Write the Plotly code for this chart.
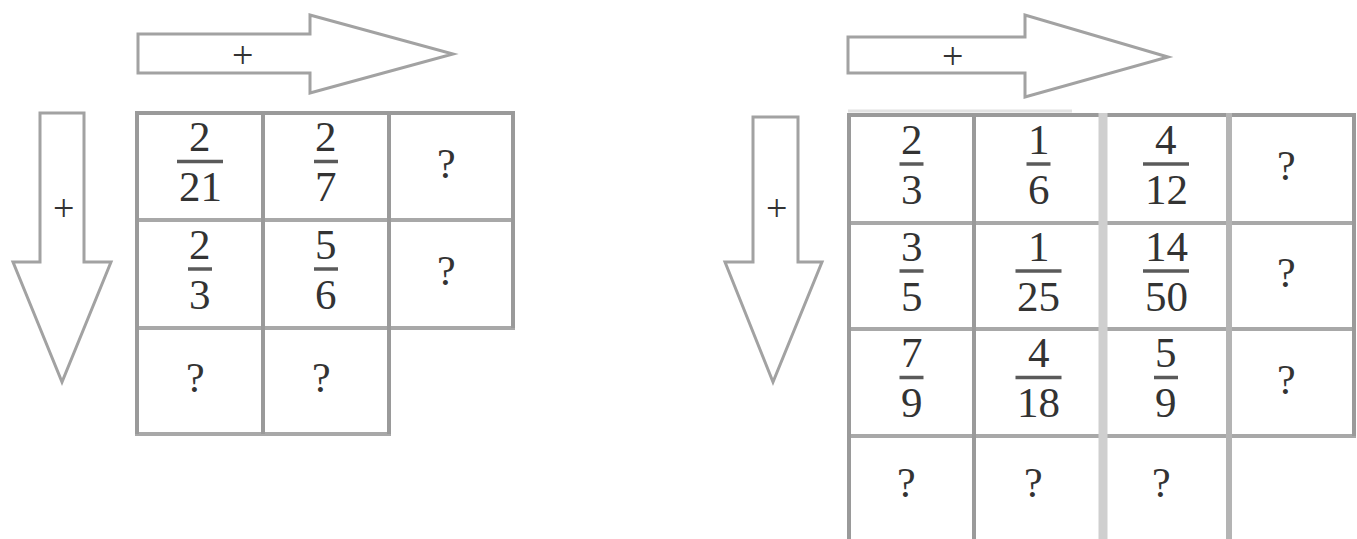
import plotly.graph_objects as go

# ---------------- data: cell contents (row by row) ----------------
left_rows = [
    ["2/21", "2/7", "?"],
    ["2/3", "5/6", "?"],
    ["?", "?"],
]
right_rows = [
    ["2/3", "1/6", "4/12", "?"],
    ["3/5", "1/25", "14/50", "?"],
    ["7/9", "4/18", "5/9", "?"],
    ["?", "?", "?"],
]
arrow_labels = ["+", "+"]

# ---------------- geometry (pixel space of the 1357x539 page) ----------------
W, H = 1357, 539
panels = [
    dict(rows=left_rows, xe=[137, 263, 389, 513], ye=[113, 220, 328, 434],
         open_bottom=False,
         harrow=dict(x0=138, x1=310, y0=34, y1=73, ht=15, hb=93, tipx=453, tipy=54, lx=242),
         varrow=dict(x0=40, x1=84, y0=113, yb=262, hl=13, hr=111, tipx=62, tipy=382, ly=208)),
    dict(rows=right_rows, xe=[849, 974, 1103, 1229, 1354], ye=[115, 223, 329, 436, 545],
         open_bottom=True,
         harrow=dict(x0=848, x1=1025, y0=37, y1=73, ht=15, hb=97, tipx=1168, tipy=57, lx=952),
         varrow=dict(x0=753, x1=798, y0=117, yb=262, hl=725, hr=822, tipx=773, tipy=382, ly=208)),
]

LINE = "#9a9a9a"
TXT = "#333333"
FONT = "Liberation Serif, Times New Roman, serif"

fig = go.Figure()
fig.add_trace(go.Scatter(x=[0, W], y=[0, H], mode="markers",
                         marker=dict(opacity=0), hoverinfo="skip", showlegend=False))

shapes = []
annos = []

def line(x0, y0, x1, y1, color=LINE, width=4):
    shapes.append(dict(type="line", x0=x0, y0=y0, x1=x1, y1=y1, xref="x", yref="y",
                       line=dict(color=color, width=width)))

for pi, p in enumerate(panels):
    xe, ye, rows = p["xe"], p["ye"], p["rows"]
    ncols = len(rows[0])
    nrows = len(rows)
    # horizontal lines
    for r in range(nrows + 1):
        if r == nrows and p["open_bottom"]:
            continue
        if r == nrows:
            cols_here = len(rows[r - 1])
        else:
            cols_here = max(len(rows[r - 1]) if r > 0 else 0, len(rows[r]))
        col = LINE if r == 0 else "#a8a8a8"
        line(xe[0] - 2, ye[r], xe[cols_here] + 2, ye[r], color=col)
    # vertical lines
    for c in range(ncols + 1):
        last = 0
        for r in range(nrows):
            if c <= len(rows[r]):
                last = r
        ybot = ye[last + 1] if not (p["open_bottom"] and last == nrows - 1) else H + 5
        col, wd = LINE, 4
        if pi == 1 and c == 2:
            col, wd = "#cfcfcf", 9
        elif pi == 1 and c == 3:
            col, wd = "#b4b4b4", 6
        line(xe[c], ye[0] - 2, xe[c], ybot, color=col, width=wd)
    if pi == 1:
        line(848, 111, 1072, 111, color="#e2e2e2", width=3)

    # cell contents
    for r, row in enumerate(rows):
        for c, val in enumerate(row):
            cx = (xe[c] + xe[c + 1]) / 2
            cy = (ye[r] + ye[r + 1]) / 2 if not (p["open_bottom"] and r == nrows - 1) else ye[r] + 50
            if val == "?":
                annos.append(dict(x=cx - 5, y=cy - 3, text="?", showarrow=False,
                                  font=dict(family=FONT, size=42, color=TXT),
                                  xanchor="center", yanchor="middle"))
            elif val:
                num, den = val.split("/")
                by = cy - 5
                n = max(len(num), len(den))
                half = (22 * n + 2) / 2
                line(cx - half, by, cx + half, by, color="#5a5a5a", width=3.5)
                annos.append(dict(x=cx, y=by - 25, text=num, showarrow=False,
                                  font=dict(family=FONT, size=43, color=TXT),
                                  xanchor="center", yanchor="middle"))
                annos.append(dict(x=cx, y=by + 25, text=den, showarrow=False,
                                  font=dict(family=FONT, size=43, color=TXT),
                                  xanchor="center", yanchor="middle"))

    # horizontal arrow
    a = p["harrow"]
    path = (f"M {a['x0']},{a['y0']} L {a['x1']},{a['y0']} L {a['x1']},{a['ht']} "
            f"L {a['tipx']},{a['tipy']} L {a['x1']},{a['hb']} L {a['x1']},{a['y1']} "
            f"L {a['x0']},{a['y1']} Z")
    shapes.append(dict(type="path", path=path, xref="x", yref="y",
                       line=dict(color="#a2a2a2", width=3), fillcolor="rgba(0,0,0,0)"))
    annos.append(dict(x=a["lx"], y=(a["y0"] + a["y1"]) / 2 + 1, text=arrow_labels[pi],
                      showarrow=False, font=dict(family=FONT, size=38, color=TXT),
                      xanchor="center", yanchor="middle"))
    # vertical arrow
    v = p["varrow"]
    path = (f"M {v['x0']},{v['y0']} L {v['x1']},{v['y0']} L {v['x1']},{v['yb']} "
            f"L {v['hr']},{v['yb']} L {v['tipx']},{v['tipy']} L {v['hl']},{v['yb']} "
            f"L {v['x0']},{v['yb']} Z")
    shapes.append(dict(type="path", path=path, xref="x", yref="y",
                       line=dict(color="#a2a2a2", width=3), fillcolor="rgba(0,0,0,0)"))
    annos.append(dict(x=(v["x0"] + v["x1"]) / 2 + 1, y=v["ly"], text=arrow_labels[pi],
                      showarrow=False, font=dict(family=FONT, size=38, color=TXT),
                      xanchor="center", yanchor="middle"))

fig.update_layout(
    width=W, height=H, autosize=False,
    margin=dict(l=0, r=0, t=0, b=0),
    paper_bgcolor="white", plot_bgcolor="white",
    xaxis=dict(range=[0, W], visible=False, fixedrange=True),
    yaxis=dict(range=[H, 0], visible=False, fixedrange=True),
    shapes=shapes, annotations=annos, showlegend=False,
)

fig.write_html(
    "out.html",
    config={"displayModeBar": False},
    post_script="document.body.style.margin='0';document.body.style.overflow='hidden';",
)
